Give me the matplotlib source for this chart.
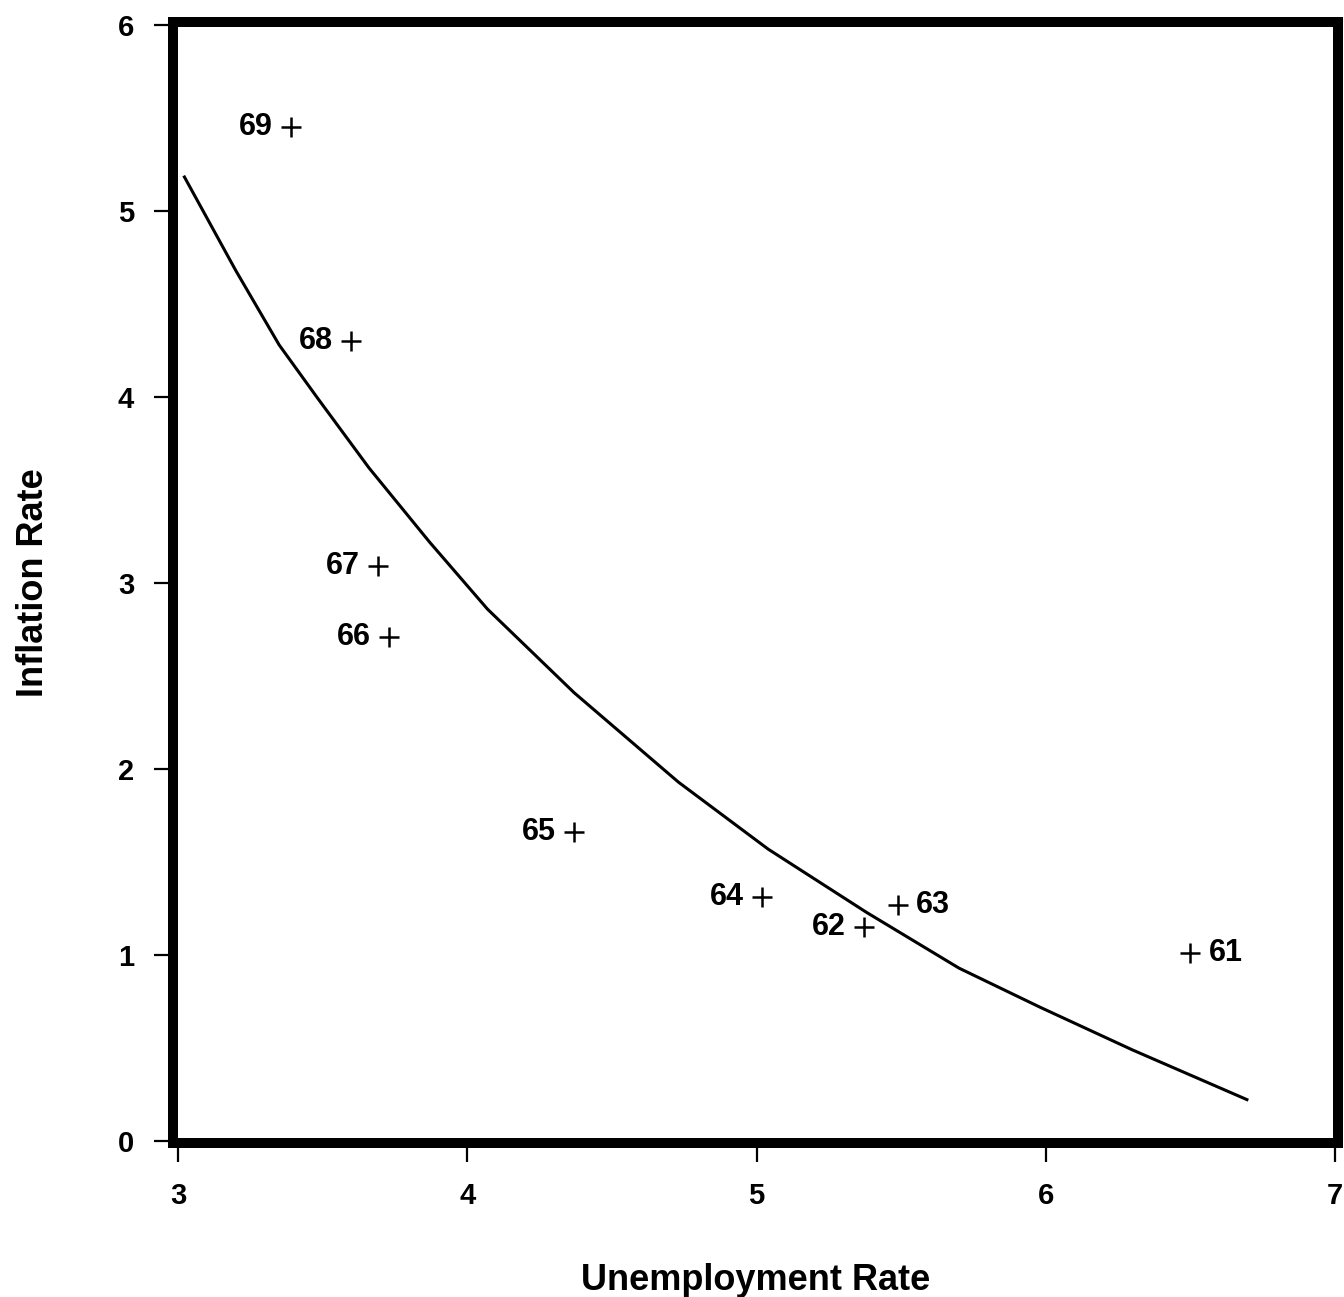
import matplotlib
matplotlib.use("Agg")
import matplotlib.pyplot as plt

# Data points (year labels, unemployment %, inflation %)
years = ["61", "62", "63", "64", "65", "66", "67", "68", "69"]
unemployment = [6.50, 5.37, 5.49, 5.02, 4.37, 3.73, 3.69, 3.60, 3.39]
inflation = [1.01, 1.15, 1.27, 1.31, 1.66, 2.71, 3.09, 4.30, 5.45]
label_side = ["right", "left", "right", "left", "left", "left", "left", "left", "left"]

# Fitted Phillips curve
curve_x = [3.02, 3.20, 3.35, 3.48, 3.66, 3.87, 4.07, 4.37, 4.73, 5.04, 5.38, 5.70, 5.98, 6.30, 6.70]
curve_y = [5.19, 4.68, 4.28, 4.00, 3.62, 3.22, 2.86, 2.41, 1.93, 1.57, 1.23, 0.93, 0.72, 0.49, 0.22]

x_ticks = [3, 4, 5, 6, 7]
y_ticks = [0, 1, 2, 3, 4, 5, 6]

plt.rcParams['font.family'] = ['Liberation Sans', 'DejaVu Sans']

W, H = 1344, 1297
fig = plt.figure(figsize=(W / 100, H / 100), dpi=100)
ax = fig.add_axes([173 / W, 1 - 1143 / H, (1338 - 173) / W, (1143 - 22) / H])

ax.plot(curve_x, curve_y, color="black", linewidth=2.2, solid_capstyle="butt",
        solid_joinstyle="round")
ax.plot(unemployment, inflation, linestyle="none", marker="+", markersize=14,
        markeredgewidth=1.8, color="black")

for yr, ux, iy, side in zip(years, unemployment, inflation, label_side):
    if side == "left":
        ax.annotate(yr, (ux, iy), xytext=(-13, 0), textcoords="offset points",
                    ha="right", va="center", fontsize=22, fontweight="bold")
    else:
        ax.annotate(yr, (ux, iy), xytext=(13, 0), textcoords="offset points",
                    ha="left", va="center", fontsize=22, fontweight="bold")

ax.set_xlim(2.983, 7.01)
ax.set_ylim(-0.01, 6.016)
ax.set_xticks(x_ticks)
ax.set_yticks(y_ticks)
ax.set_xticklabels([str(t) for t in x_ticks], fontsize=21, fontweight="bold")
ax.set_yticklabels([str(t) for t in y_ticks], fontsize=21, fontweight="bold")
ax.tick_params(direction="out", length=14, width=1.6, pad=14, colors="black")

for sp in ax.spines.values():
    sp.set_linewidth(7.2)
    sp.set_color("black")

ax.set_xlabel("Unemployment Rate", fontsize=26, fontweight="bold", labelpad=38)
ax.set_ylabel("Inflation Rate", fontsize=26, fontweight="bold", labelpad=48)

fig.savefig("out.png", dpi=100, facecolor="white")
